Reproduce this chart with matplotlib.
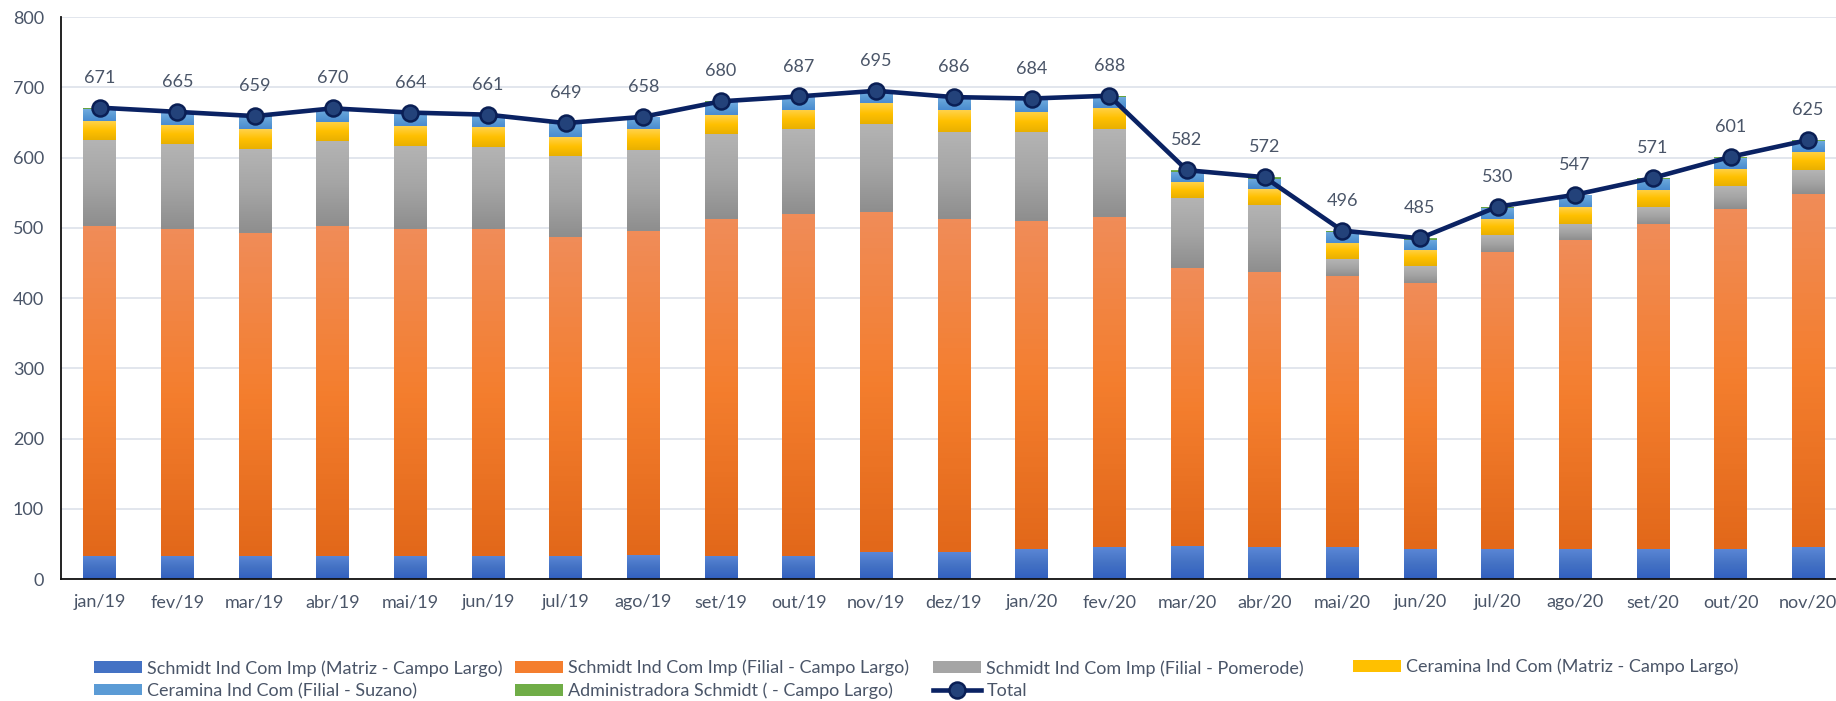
import numpy as np
import matplotlib.pyplot as plt
from matplotlib.colors import LinearSegmentedColormap
from matplotlib.patches import Rectangle
from matplotlib.lines import Line2D

plt.rcParams['font.family'] = ['Lato', 'DejaVu Sans']

meses = ["jan/19", "fev/19", "mar/19", "abr/19", "mai/19", "jun/19", "jul/19", "ago/19",
         "set/19", "out/19", "nov/19", "dez/19", "jan/20", "fev/20", "mar/20", "abr/20",
         "mai/20", "jun/20", "jul/20", "ago/20", "set/20", "out/20", "nov/20"]

matriz_cl = [33, 33, 33, 33, 33, 33, 33, 34, 33, 33, 38, 38, 43, 45, 47, 45, 45, 43, 43, 43, 43, 43, 45]
filial_cl = [469, 465, 460, 469, 465, 465, 454, 461, 480, 487, 484, 475, 466, 470, 396, 392, 386, 378, 422, 439, 462, 484, 503]
pomerode = [123, 121, 119, 121, 119, 117, 115, 116, 121, 120, 126, 124, 127, 125, 100, 96, 24, 24, 25, 23, 24, 32, 34]
ceramina_matriz = [27, 28, 28, 28, 28, 28, 27, 29, 27, 28, 29, 30, 29, 30, 22, 22, 23, 23, 23, 24, 25, 25, 26]
ceramina_suzano = [17, 17, 18, 18, 18, 17, 19, 17, 18, 18, 17, 18, 18, 16, 15, 15, 16, 15, 15, 17, 16, 16, 16]
administradora = [2, 1, 1, 1, 1, 1, 1, 1, 1, 1, 1, 1, 1, 2, 2, 2, 2, 2, 2, 1, 1, 1, 1]
total = [671, 665, 659, 670, 664, 661, 649, 658, 680, 687, 695, 686, 684, 688, 582, 572, 496, 485, 530, 547, 571, 601, 625]

series = [
    ("Schmidt Ind Com Imp (Matriz - Campo Largo)", matriz_cl, ['#3260c0', '#4472c4', '#5b87d6']),
    ("Schmidt Ind Com Imp (Filial - Campo Largo)", filial_cl, ['#e2681a', '#f47e2e', '#f08c58']),
    ("Schmidt Ind Com Imp (Filial - Pomerode)", pomerode, ['#8e8e8e', '#a5a5a5', '#b4b4b4']),
    ("Ceramina Ind Com (Matriz - Campo Largo)", ceramina_matriz, ['#e9b000', '#ffc000', '#ffd24a']),
    ("Ceramina Ind Com (Filial - Suzano)", ceramina_suzano, ['#4a8bd0', '#5b9bd5', '#72abe0']),
    ("Administradora Schmidt ( - Campo Largo)", administradora, ['#5e9a3a', '#70ad47', '#80bb58']),
]

txt_col = '#4a5568'
fig = plt.figure(figsize=(18.36, 7.01), dpi=100)
ax = fig.add_axes([0.0331, 0.174, 0.9729, 0.8017])

x = np.arange(len(meses))
bottom = np.zeros(len(meses))
grad = np.linspace(0, 1, 64).reshape(-1, 1)
handles = []
for nome, vals, cores in series:
    bars = ax.bar(x, vals, 0.42, bottom=bottom, color=cores[1], zorder=2)
    cmap = LinearSegmentedColormap.from_list(nome, cores)
    # gradiente estilo Excel
    for b in bars:
        x0, y0 = b.get_x(), b.get_y()
        im = ax.imshow(grad, extent=[x0, x0 + b.get_width(), y0, y0 + b.get_height()],
                       origin='lower', aspect='auto', cmap=cmap, zorder=2.1)
        im.set_clip_path(b)
    bottom += np.array(vals)
    handles.append(Rectangle((0, 0), 1, 1, facecolor=cores[1], label=nome))

ax.plot(x, total, color='#0a2263', lw=3.3, marker='o', ms=11.5,
        mfc='#23427a', mec='#0a1f55', mew=1.8, zorder=4)
for i, v in enumerate(total):
    ax.annotate(str(v), (i, v), xytext=(0, 21.5), textcoords='offset points',
                ha='center', va='center', fontsize=13, color=txt_col)

ax.set_xlim(-0.5, len(meses) - 0.5)
ax.set_ylim(0, 800)
ax.set_yticks(range(0, 801, 100))
ax.set_xticks(x)
ax.set_xticklabels(meses)
ax.tick_params(axis='both', length=0, labelsize=13, labelcolor=txt_col)
ax.tick_params(axis='x', pad=11)
ax.tick_params(axis='y', pad=12)
ax.grid(axis='y', color='#dde2ea', lw=1.2, zorder=0)
ax.set_axisbelow(True)
for s in ['top', 'right']:
    ax.spines[s].set_visible(False)
for s in ['left', 'bottom']:
    ax.spines[s].set_color('#111111')
    ax.spines[s].set_linewidth(1.3)

tot_h = Line2D([], [], color='#0a2263', lw=3.3, marker='o', ms=11.5,
               mfc='#23427a', mec='#0a1f55', mew=1.8, label='Total')

# legenda em colunas como no Excel
cols = [([handles[0], handles[4]], 94), ([handles[1], handles[5]], 515),
        ([handles[2], tot_h], 933), ([handles[3]], 1353)]
for hs, xp in cols:
    yc = 679.5 if len(hs) == 2 else 667
    fig.legend(handles=hs, loc='center left', bbox_to_anchor=(xp / 1836, 1 - yc / 701),
               frameon=False, fontsize=13, borderpad=0, borderaxespad=0,
               handlelength=2.65, handleheight=0.62, handletextpad=0.3,
               labelspacing=0.35, labelcolor=txt_col)

fig.savefig('out.png', dpi=100)
